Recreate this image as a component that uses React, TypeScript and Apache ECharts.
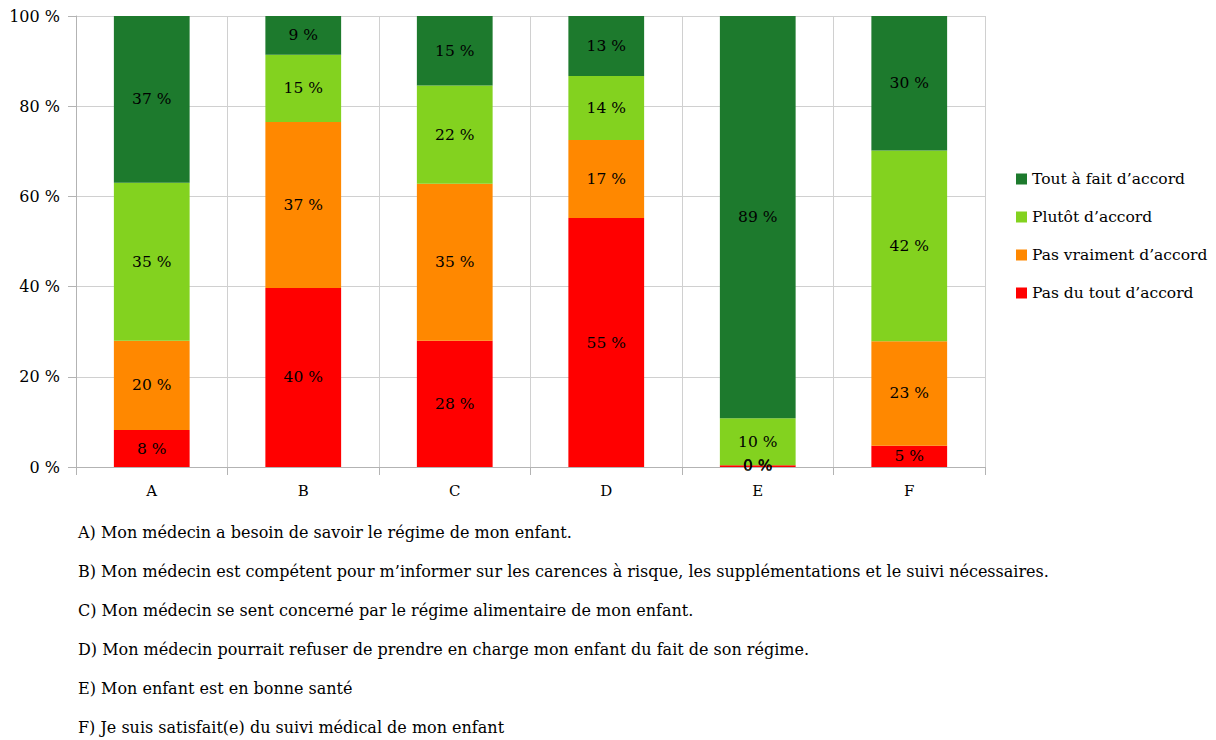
import React, { useEffect, useRef } from "react";
import * as echarts from "echarts";

const categories = ["A", "B", "C", "D", "E", "F"];
const pasDuTout = [8.2, 39.7, 28.0, 55.2, 0.4, 4.7];
const pasVraiment = [19.8, 36.8, 34.8, 17.3, 0, 23.2];
const plutot = [35.0, 14.9, 21.8, 14.2, 10.4, 42.3];
const toutAFait = [37.0, 8.6, 15.4, 13.3, 89.2, 29.8];
const seriesNames = ["Pas du tout d’accord", "Pas vraiment d’accord", "Plutôt d’accord", "Tout à fait d’accord"];
const yTicks = [0, 20, 40, 60, 80, 100];
const footnotes = [
  "A) Mon médecin a besoin de savoir le régime de mon enfant.",
  "B) Mon médecin est compétent pour m’informer sur les carences à risque, les supplémentations et le suivi nécessaires.",
  "C) Mon médecin se sent concerné par le régime alimentaire de mon enfant.",
  "D) Mon médecin pourrait refuser de prendre en charge mon enfant du fait de son régime.",
  "E) Mon enfant est en bonne santé",
  "F) Je suis satisfait(e) du suivi médical de mon enfant",
];

const colors = ["#ff0000", "#ff8800", "#83d21f", "#1d7a2d"];
const FONT = "DejaVu Serif";

export default function App() {
  const ref = useRef<HTMLDivElement>(null);
  useEffect(() => {
    if (!ref.current) return;
    const chart = echarts.init(ref.current, null, { renderer: "svg" });
    const dataSets = [pasDuTout, pasVraiment, plutot, toutAFait];
    chart.setOption({
      animation: false,
      textStyle: { fontFamily: FONT },
      grid: { left: 76, top: 16, width: 909, height: 451 },
      legend: {
        data: [seriesNames[3], seriesNames[2], seriesNames[1], seriesNames[0]],
        orient: "vertical",
        left: 1011,
        top: 166,
        itemWidth: 11,
        itemHeight: 11,
        itemGap: 22,
        icon: "rect",
        textStyle: { fontFamily: FONT, fontSize: 15.5, color: "#000" },
      },
      xAxis: {
        type: "category",
        data: categories,
        axisLine: { lineStyle: { color: "#b3b3b3" } },
        axisTick: { show: true, length: 8, lineStyle: { color: "#b3b3b3" } },
        splitLine: { show: true, lineStyle: { color: "#d0d0d0" } },
        axisLabel: { fontFamily: FONT, fontSize: 15, color: "#000", margin: 16 },
      },
      yAxis: {
        type: "value",
        min: 0,
        max: 100,
        interval: 20,
        axisLine: { show: true, lineStyle: { color: "#b3b3b3" } },
        axisTick: { show: true, length: 8, lineStyle: { color: "#b3b3b3" } },
        splitLine: { show: true, lineStyle: { color: "#d0d0d0" } },
        axisLabel: {
          fontFamily: FONT,
          fontSize: 16,
          color: "#000",
          margin: 16,
          formatter: (v: number) => (yTicks.includes(v) ? v + " %" : ""),
        },
      },
      series: dataSets.map((d, i) => ({
        name: seriesNames[i],
        type: "bar",
        stack: "total",
        barWidth: "50%",
        data: d,
        itemStyle: { color: colors[i] },
        label: {
          show: true,
          position: "inside",
          fontFamily: FONT,
          fontSize: 15.5,
          color: "#000",
          formatter: (p: any) => Math.round(p.value) + " %",
        },
      })),
      graphic: footnotes.map((t, i) => ({
        type: "text",
        left: 78,
        top: 524 + i * 39,
        style: { text: t, fontFamily: FONT, fontSize: 16, fill: "#000" },
      })),
    });
    return () => chart.dispose();
  }, []);
  return <div ref={ref} style={{ position: "absolute", left: 0, top: 0, width: 1216, height: 740 }} />;
}
